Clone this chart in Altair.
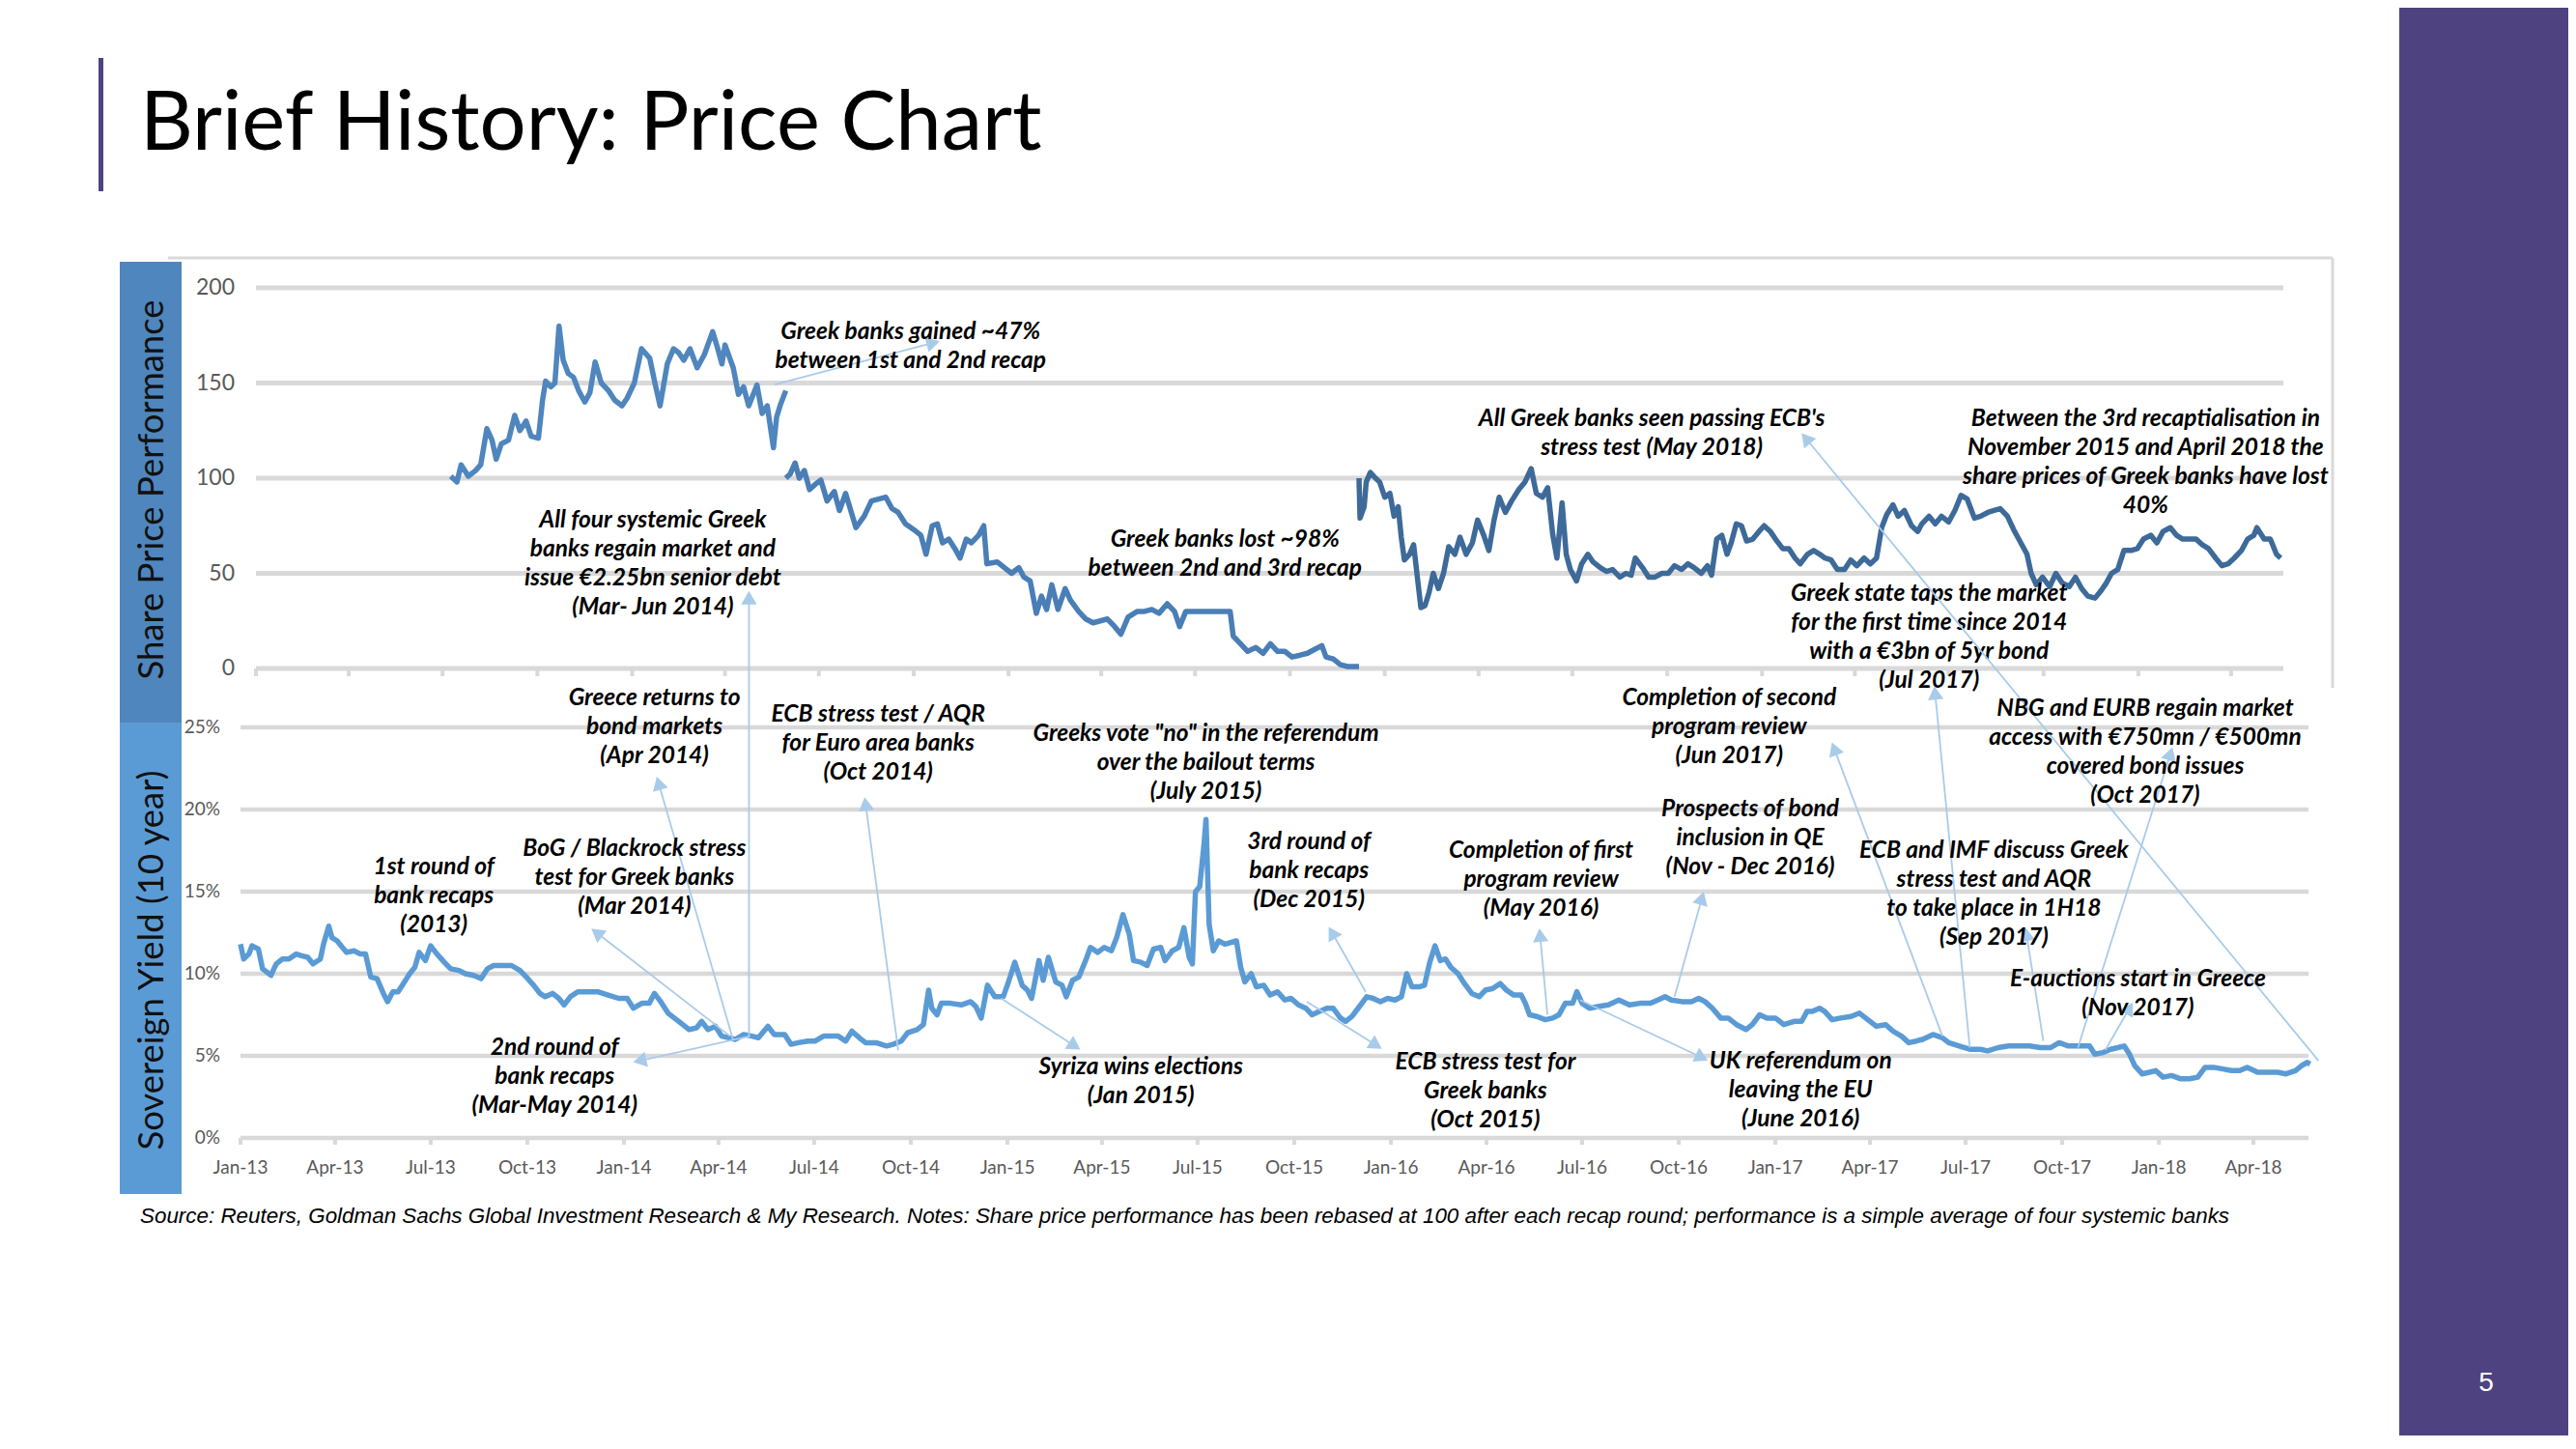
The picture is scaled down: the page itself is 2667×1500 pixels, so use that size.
import math
import altair as alt
import pandas as pd

# ---------------- data ----------------
# share price performance, rebased to 100 after each recap round
p1_dates = ["2013-07-09", "2013-07-15", "2013-07-19", "2013-07-26", "2013-08-02", "2013-08-07", "2013-08-13",
            "2013-08-18", "2013-08-22", "2013-08-27", "2013-09-03", "2013-09-09", "2013-09-14", "2013-09-20",
            "2013-09-25", "2013-10-02", "2013-10-06", "2013-10-09", "2013-10-14", "2013-10-18", "2013-10-22",
            "2013-10-26", "2013-10-31", "2013-11-05", "2013-11-10", "2013-11-16", "2013-11-21", "2013-11-26",
            "2013-12-02", "2013-12-09", "2013-12-15", "2013-12-22", "2013-12-27", "2014-01-03", "2014-01-10",
            "2014-01-18", "2014-01-23", "2014-01-28", "2014-02-04", "2014-02-10", "2014-02-15", "2014-02-20",
            "2014-02-26", "2014-03-05", "2014-03-12", "2014-03-20", "2014-03-25", "2014-03-29", "2014-04-01",
            "2014-04-09", "2014-04-14", "2014-04-19", "2014-04-24", "2014-05-02", "2014-05-07", "2014-05-12",
            "2014-05-18", "2014-05-21", "2014-05-25", "2014-05-30"]
p1_vals = [101, 98, 107, 101, 104, 107, 126, 120, 110, 118, 120, 133, 125, 130, 122, 121, 141, 151, 148, 150,
           180, 162, 155, 153, 146, 140, 145, 161, 150, 146, 141, 138, 142, 150, 168, 163, 150, 138, 160, 168,
           166, 162, 168, 158, 165, 177, 168, 160, 170, 158, 144, 148, 138, 149, 134, 138, 116, 132, 139, 146]

p2_dates = ["2014-05-30", "2014-06-03", "2014-06-08", "2014-06-12", "2014-06-17", "2014-06-22", "2014-06-28",
            "2014-07-03", "2014-07-09", "2014-07-16", "2014-07-21", "2014-07-27", "2014-08-01", "2014-08-06",
            "2014-08-14", "2014-08-21", "2014-08-28", "2014-09-04", "2014-09-10", "2014-09-16", "2014-09-23",
            "2014-10-01", "2014-10-08", "2014-10-13", "2014-10-19", "2014-10-24", "2014-10-29", "2014-11-04",
            "2014-11-10", "2014-11-15", "2014-11-21", "2014-11-26", "2014-12-03", "2014-12-08", "2014-12-11",
            "2014-12-21", "2014-12-28", "2015-01-04", "2015-01-11", "2015-01-16", "2015-01-22", "2015-01-28",
            "2015-02-02", "2015-02-07", "2015-02-12", "2015-02-18", "2015-02-25", "2015-03-02", "2015-03-10",
            "2015-03-17", "2015-03-24", "2015-03-31", "2015-04-07", "2015-04-14", "2015-04-20", "2015-04-27",
            "2015-05-06", "2015-05-13", "2015-05-20", "2015-05-27", "2015-06-04", "2015-06-11", "2015-06-16",
            "2015-06-22", "2015-08-04", "2015-08-07", "2015-08-14", "2015-08-21", "2015-08-29", "2015-09-05",
            "2015-09-12", "2015-09-19", "2015-09-26", "2015-10-03", "2015-10-11", "2015-10-18", "2015-10-25",
            "2015-11-01", "2015-11-05", "2015-11-12", "2015-11-19", "2015-11-26", "2015-12-07"]
p2_vals = [100, 102, 108, 100, 104, 94, 97, 99, 88, 93, 83, 92, 83, 74, 80, 88, 89, 90, 84, 82, 76, 73, 70, 60,
           75, 76, 66, 68, 63, 58, 68, 66, 70, 75, 55, 56, 53, 50, 53, 48, 46, 29, 38, 31, 44, 31, 42, 36, 30,
           26, 24, 25, 26, 22, 18, 27, 30, 30, 31, 29, 34, 30, 22, 30, 30, 17, 13, 9, 11, 8, 13, 9, 9, 6, 7, 8,
           10, 12, 6, 5, 2, 1, 1]

p3_dates = ["2015-12-07", "2015-12-08", "2015-12-12", "2015-12-14", "2015-12-18", "2015-12-23", "2015-12-27",
            "2016-01-01", "2016-01-06", "2016-01-10", "2016-01-14", "2016-01-17", "2016-01-20", "2016-01-25",
            "2016-01-29", "2016-02-05", "2016-02-09", "2016-02-13", "2016-02-17", "2016-02-22", "2016-02-27",
            "2016-03-03", "2016-03-09", "2016-03-14", "2016-03-20", "2016-03-26", "2016-03-31", "2016-04-06",
            "2016-04-11", "2016-04-16", "2016-04-21", "2016-04-27", "2016-05-03", "2016-05-10", "2016-05-16",
            "2016-05-22", "2016-05-27", "2016-06-02", "2016-06-07", "2016-06-12", "2016-06-16", "2016-06-21",
            "2016-06-25", "2016-06-29", "2016-07-05", "2016-07-10", "2016-07-16", "2016-07-21", "2016-07-28",
            "2016-08-03", "2016-08-09", "2016-08-16", "2016-08-22", "2016-08-27", "2016-08-31", "2016-09-07",
            "2016-09-13", "2016-09-19", "2016-09-26", "2016-10-02", "2016-10-08", "2016-10-15", "2016-10-21",
            "2016-10-27", "2016-11-03", "2016-11-09", "2016-11-13", "2016-11-18", "2016-11-23", "2016-11-28",
            "2016-12-02", "2016-12-07", "2016-12-12", "2016-12-17", "2016-12-23", "2016-12-29", "2017-01-03",
            "2017-01-09", "2017-01-14", "2017-01-21", "2017-01-27", "2017-02-02", "2017-02-07", "2017-02-14",
            "2017-02-20", "2017-02-26", "2017-03-03", "2017-03-09", "2017-03-15", "2017-03-22", "2017-03-28",
            "2017-04-03", "2017-04-10", "2017-04-16", "2017-04-22", "2017-04-27", "2017-05-02", "2017-05-08",
            "2017-05-13", "2017-05-19", "2017-05-26", "2017-06-01", "2017-06-05", "2017-06-12", "2017-06-18",
            "2017-06-24", "2017-07-01", "2017-07-07", "2017-07-13", "2017-07-19", "2017-07-26", "2017-08-01",
            "2017-08-08", "2017-08-14", "2017-08-20", "2017-08-27", "2017-09-02", "2017-09-08", "2017-09-15",
            "2017-09-19", "2017-09-24", "2017-09-30", "2017-10-07", "2017-10-13", "2017-10-19", "2017-10-26",
            "2017-11-01", "2017-11-07", "2017-11-13", "2017-11-20", "2017-11-26", "2017-12-01", "2017-12-06",
            "2017-12-12", "2017-12-18", "2017-12-25", "2017-12-31", "2018-01-06", "2018-01-13", "2018-01-19",
            "2018-01-25", "2018-02-01", "2018-02-07", "2018-02-13", "2018-02-20", "2018-02-26", "2018-03-04",
            "2018-03-10", "2018-03-17", "2018-03-23", "2018-03-29", "2018-04-04", "2018-04-11", "2018-04-17",
            "2018-04-23", "2018-04-26", "2018-05-03", "2018-05-09", "2018-05-15", "2018-05-19"]
p3_vals = [100, 79, 85, 98, 103, 100, 98, 90, 92, 80, 85, 69, 57, 60, 65, 32, 33, 40, 50, 42, 50, 64, 60, 69,
           60, 66, 78, 70, 62, 78, 90, 82, 88, 94, 98, 105, 92, 90, 95, 70, 58, 87, 60, 52, 46, 55, 60, 56, 53,
           51, 52, 48, 50, 49, 58, 53, 48, 48, 50, 50, 54, 52, 55, 53, 50, 54, 49, 68, 70, 60, 66, 76, 75, 67,
           68, 72, 75, 72, 68, 63, 63, 58, 55, 60, 62, 60, 58, 57, 52, 52, 57, 54, 58, 55, 58, 74, 81, 86, 80,
           83, 75, 72, 76, 80, 76, 80, 77, 83, 91, 89, 79, 80, 82, 83, 84, 80, 73, 67, 60, 50, 44, 48, 43, 50,
           45, 43, 48, 42, 38, 37, 41, 45, 50, 52, 62, 62, 63, 68, 70, 66, 72, 74, 70, 68, 68, 68, 65, 63, 58,
           54, 55, 58, 62, 68, 70, 74, 68, 68, 60, 58]

# Greek 10 year sovereign yield, %
yld_dates = ["2013-01-01", "2013-01-04", "2013-01-09", "2013-01-12", "2013-01-18", "2013-01-22", "2013-01-30",
             "2013-02-04", "2013-02-10", "2013-02-16", "2013-02-23", "2013-02-28", "2013-03-06", "2013-03-11",
             "2013-03-18", "2013-03-21", "2013-03-26", "2013-03-29", "2013-04-03", "2013-04-08", "2013-04-12",
             "2013-04-19", "2013-04-25", "2013-04-30", "2013-05-05", "2013-05-11", "2013-05-17", "2013-05-21",
             "2013-05-26", "2013-05-31", "2013-06-05", "2013-06-11", "2013-06-16", "2013-06-20", "2013-06-26",
             "2013-07-01", "2013-07-07", "2013-07-14", "2013-07-20", "2013-07-28", "2013-08-03", "2013-08-11",
             "2013-08-18", "2013-08-24", "2013-08-30", "2013-09-08", "2013-09-16", "2013-09-24", "2013-09-30",
             "2013-10-07", "2013-10-13", "2013-10-18", "2013-10-25", "2013-10-31", "2013-11-05", "2013-11-11",
             "2013-11-18", "2013-11-27", "2013-12-07", "2013-12-17", "2013-12-27", "2014-01-04", "2014-01-10",
             "2014-01-18", "2014-01-25", "2014-01-30", "2014-02-05", "2014-02-12", "2014-02-18", "2014-02-26",
             "2014-03-04", "2014-03-11", "2014-03-16", "2014-03-22", "2014-03-29", "2014-04-04", "2014-04-11",
             "2014-04-17", "2014-04-25", "2014-05-03", "2014-05-09", "2014-05-18", "2014-05-24", "2014-06-03",
             "2014-06-09", "2014-06-16", "2014-06-25", "2014-07-02", "2014-07-10", "2014-07-18", "2014-07-24",
             "2014-07-31", "2014-08-06", "2014-08-13", "2014-08-19", "2014-08-29", "2014-09-08", "2014-09-14",
             "2014-09-22", "2014-09-28", "2014-10-07", "2014-10-13", "2014-10-18", "2014-10-21", "2014-10-26",
             "2014-10-30", "2014-11-08", "2014-11-18", "2014-11-27", "2014-12-02", "2014-12-07", "2014-12-13",
             "2014-12-20", "2014-12-28", "2015-01-02", "2015-01-08", "2015-01-15", "2015-01-20", "2015-01-24",
             "2015-01-31", "2015-02-04", "2015-02-09", "2015-02-16", "2015-02-22", "2015-02-26", "2015-03-04",
             "2015-03-10", "2015-03-17", "2015-03-21", "2015-03-28", "2015-04-03", "2015-04-10", "2015-04-15",
             "2015-04-21", "2015-04-27", "2015-05-01", "2015-05-08", "2015-05-14", "2015-05-20", "2015-05-27",
             "2015-05-31", "2015-06-07", "2015-06-13", "2015-06-18", "2015-06-23", "2015-06-26", "2015-06-29",
             "2015-07-03", "2015-07-07", "2015-07-09", "2015-07-12", "2015-07-16", "2015-07-21", "2015-07-27",
             "2015-08-07", "2015-08-11", "2015-08-15", "2015-08-21", "2015-08-26", "2015-09-02", "2015-09-08",
             "2015-09-15", "2015-09-22", "2015-09-28", "2015-10-05", "2015-10-12", "2015-10-18", "2015-10-25",
             "2015-11-01", "2015-11-07", "2015-11-14", "2015-11-19", "2015-11-25", "2015-12-02", "2015-12-09",
             "2015-12-15", "2015-12-22", "2015-12-29", "2016-01-05", "2016-01-11", "2016-01-16", "2016-01-21",
             "2016-01-28", "2016-02-02", "2016-02-07", "2016-02-12", "2016-02-17", "2016-02-22", "2016-02-27",
             "2016-03-05", "2016-03-11", "2016-03-18", "2016-03-25", "2016-03-31", "2016-04-07", "2016-04-14",
             "2016-04-20", "2016-04-27", "2016-05-04", "2016-05-08", "2016-05-12", "2016-05-19", "2016-05-27",
             "2016-06-03", "2016-06-09", "2016-06-15", "2016-06-22", "2016-06-26", "2016-07-01", "2016-07-08",
             "2016-07-16", "2016-07-26", "2016-08-05", "2016-08-15", "2016-08-25", "2016-09-04", "2016-09-11",
             "2016-09-18", "2016-09-24", "2016-10-04", "2016-10-13", "2016-10-20", "2016-10-26", "2016-11-02",
             "2016-11-10", "2016-11-17", "2016-11-25", "2016-12-04", "2016-12-10", "2016-12-17", "2016-12-24",
             "2017-01-01", "2017-01-09", "2017-01-19", "2017-01-26", "2017-01-31", "2017-02-05", "2017-02-12",
             "2017-02-17", "2017-02-24", "2017-03-04", "2017-03-14", "2017-03-22", "2017-03-30", "2017-04-07",
             "2017-04-16", "2017-04-23", "2017-05-01", "2017-05-08", "2017-05-15", "2017-05-21", "2017-05-31",
             "2017-06-09", "2017-06-15", "2017-06-25", "2017-07-05", "2017-07-15", "2017-07-22", "2017-08-01",
             "2017-08-11", "2017-08-21", "2017-08-31", "2017-09-10", "2017-09-20", "2017-09-28", "2017-10-07",
             "2017-10-17", "2017-10-27", "2017-11-01", "2017-11-09", "2017-11-16", "2017-11-23", "2017-11-29",
             "2017-12-04", "2017-12-09", "2017-12-16", "2017-12-23", "2017-12-29", "2018-01-05", "2018-01-13",
             "2018-01-22", "2018-01-30", "2018-02-07", "2018-02-14", "2018-02-22", "2018-03-03", "2018-03-11",
             "2018-03-19", "2018-03-26", "2018-04-05", "2018-04-14", "2018-04-24", "2018-05-02", "2018-05-11",
             "2018-05-17", "2018-05-22", "2018-05-25"]
yld_vals = [11.8, 10.9, 11.2, 11.7, 11.5, 10.3, 9.9, 10.6, 10.9, 10.9, 11.2, 11.1, 11.0, 10.6, 10.9, 11.8, 12.9,
            12.2, 12.0, 11.6, 11.3, 11.4, 11.2, 11.2, 9.8, 9.7, 8.8, 8.3, 8.9, 8.9, 9.4, 10.0, 10.4, 11.3, 10.8,
            11.7, 11.2, 10.7, 10.3, 10.2, 10.0, 9.9, 9.7, 10.3, 10.5, 10.5, 10.5, 10.2, 9.8, 9.3, 8.8, 8.6, 8.8,
            8.5, 8.1, 8.6, 8.9, 8.9, 8.9, 8.7, 8.5, 8.5, 7.9, 8.2, 8.2, 8.8, 8.3, 7.6, 7.3, 6.9, 6.6, 6.7, 7.1,
            6.6, 6.8, 6.2, 6.1, 6.0, 6.3, 6.2, 6.1, 6.8, 6.3, 6.3, 5.7, 5.8, 5.9, 5.9, 6.2, 6.2, 6.2, 5.9, 6.5,
            6.1, 5.8, 5.8, 5.6, 5.7, 5.9, 6.4, 6.6, 6.9, 9.0, 7.9, 7.5, 8.2, 8.2, 8.1, 8.3, 8.0, 7.3, 9.3, 8.6,
            8.6, 9.5, 10.7, 9.3, 9.0, 8.5, 10.8, 9.6, 11.0, 9.5, 9.3, 8.6, 9.6, 9.8, 10.9, 11.6, 11.3, 11.6,
            11.4, 12.2, 13.6, 12.4, 10.8, 10.7, 10.5, 11.5, 11.6, 10.8, 11.4, 11.6, 12.8, 11.0, 10.6, 15.0, 15.3,
            17.8, 19.4, 13.0, 11.4, 12.0, 11.8, 12.0, 10.4, 9.5, 10.0, 9.2, 9.3, 8.7, 8.9, 8.4, 8.5, 8.1, 7.9,
            7.5, 7.7, 7.9, 7.9, 7.3, 7.1, 7.4, 8.0, 8.6, 8.5, 8.3, 8.5, 8.4, 8.6, 10.0, 9.2, 9.2, 9.3, 10.7,
            11.7, 10.8, 10.9, 10.4, 10.0, 9.4, 8.8, 8.6, 9.0, 9.1, 9.4, 9.0, 8.7, 8.7, 8.2, 7.5, 7.4, 7.2, 7.3,
            7.5, 8.2, 8.2, 8.9, 8.2, 7.9, 8.0, 8.1, 8.4, 8.1, 8.2, 8.2, 8.4, 8.6, 8.4, 8.3, 8.3, 8.5, 8.3, 7.9,
            7.3, 7.3, 6.9, 6.6, 6.9, 7.5, 7.3, 7.3, 6.9, 7.1, 7.1, 7.7, 7.7, 7.9, 7.7, 7.2, 7.3, 7.4, 7.6, 7.2,
            6.8, 6.9, 6.5, 6.2, 5.8, 5.9, 6.0, 6.3, 6.1, 5.8, 5.6, 5.4, 5.4, 5.3, 5.5, 5.6, 5.6, 5.6, 5.5, 5.5,
            5.8, 5.6, 5.6, 5.6, 5.1, 5.2, 5.4, 5.5, 5.6, 5.1, 4.4, 3.9, 4.0, 4.1, 3.7, 3.8, 3.6, 3.6, 3.7, 4.3,
            4.3, 4.2, 4.1, 4.1, 4.3, 4.0, 4.0, 4.0, 3.9, 4.1, 4.4, 4.6, 4.5]

# axes
price_ticks = [0, 50, 100, 150, 200]
price_tick_labels = ["0", "50", "100", "150", "200"]
yld_ticks = [0, 5, 10, 15, 20, 25]
yld_tick_labels = ["0%", "5%", "10%", "15%", "20%", "25%"]
quarter_dates = ["2013-01-01", "2013-04-01", "2013-07-01", "2013-10-01", "2014-01-01", "2014-04-01",
                 "2014-07-01", "2014-10-01", "2015-01-01", "2015-04-01", "2015-07-01", "2015-10-01",
                 "2016-01-01", "2016-04-01", "2016-07-01", "2016-10-01", "2017-01-01", "2017-04-01",
                 "2017-07-01", "2017-10-01", "2018-01-01", "2018-04-01"]
quarter_labels = ["Jan-13", "Apr-13", "Jul-13", "Oct-13", "Jan-14", "Apr-14", "Jul-14", "Oct-14", "Jan-15",
                  "Apr-15", "Jul-15", "Oct-15", "Jan-16", "Apr-16", "Jul-16", "Oct-16", "Jan-17", "Apr-17",
                  "Jul-17", "Oct-17", "Jan-18", "Apr-18"]

# annotations on the share price panel (date, level, text)
top_note_dates = ["2014-09-28", "2014-01-21", "2015-07-30", "2016-09-16", "2018-01-08", "2017-06-12"]
top_note_vals = [182.7, 83.8, 73.6, 137.1, 137.1, 45.2]
top_note_texts = [
    "Greek banks gained ~47%\nbetween 1st and 2nd recap",
    "All four systemic Greek\nbanks regain market and\nissue €2.25bn senior debt\n(Mar- Jun 2014)",
    "Greek banks lost ~98%\nbetween 2nd and 3rd recap",
    "All Greek banks seen passing ECB's\nstress test (May 2018)",
    "Between the 3rd recaptialisation in\nNovember 2015 and April 2018 the\nshare prices of Greek banks have lost\n40%",
    "Greek state taps the market\nfor the first time since 2014\nwith a €3bn of 5yr bond\n(Jul 2017)",
]
top_arrow_from = [("2014-05-19", 149.2)]
top_arrow_to = [("2014-10-20", 171.1)]

# annotations on the yield panel
bot_note_dates = ["2014-01-30", "2014-08-31", "2015-07-09", "2014-01-11", "2013-07-04", "2013-10-27",
                  "2015-05-08", "2015-10-15", "2016-03-31", "2016-05-23", "2017-01-25", "2016-12-08",
                  "2016-11-18", "2017-07-28", "2017-12-19", "2017-12-12"]
bot_note_vals = [27.5, 26.5, 25.3, 18.3, 17.2, 6.2, 5.0, 18.7, 5.3, 18.2, 5.35, 20.7, 27.5, 18.2, 26.8, 10.35]
bot_note_texts = [
    "Greece returns to\nbond markets\n(Apr 2014)",
    "ECB stress test / AQR\nfor Euro area banks\n(Oct 2014)",
    "Greeks vote \"no\" in the referendum\nover the bailout terms\n(July 2015)",
    "BoG / Blackrock stress\ntest for Greek banks\n(Mar 2014)",
    "1st round of\nbank recaps\n(2013)",
    "2nd round of\nbank recaps\n(Mar-May 2014)",
    "Syriza wins elections\n(Jan 2015)",
    "3rd round of\nbank recaps\n(Dec 2015)",
    "ECB stress test for\nGreek banks\n(Oct 2015)",
    "Completion of first\nprogram review\n(May 2016)",
    "UK referendum on\nleaving the EU\n(June 2016)",
    "Prospects of bond\ninclusion in QE\n(Nov - Dec 2016)",
    "Completion of second\nprogram review\n(Jun 2017)",
    "ECB and IMF discuss Greek\nstress test and AQR\nto take place in 1H18\n(Sep 2017)",
    "NBG and EURB regain market\naccess with €750mn / €500mn\ncovered bond issues\n(Oct 2017)",
    "E-auctions start in Greece\n(Nov 2017)",
]
bot_arrow_from = [("2014-04-30", 6.2), ("2018-06-02", 4.7), ("2017-07-05", 5.5), ("2014-04-15", 5.94),
                  ("2014-09-19", 5.35), ("2014-04-12", 6.2), ("2014-05-01", 6.2), ("2014-12-26", 8.5),
                  ("2015-12-08", 8.9), ("2015-10-13", 8.3), ("2016-05-29", 7.5), ("2016-06-29", 8.4),
                  ("2016-09-27", 8.6), ("2017-06-09", 6.2), ("2017-09-13", 5.9), ("2017-10-16", 5.5),
                  ("2017-11-11", 5.35)]
bot_arrow_to = [("2014-04-30", 32.9), ("2017-01-30", 42.6), ("2017-06-02", 27.1), ("2014-02-03", 21.6),
                ("2014-08-19", 20.35), ("2013-12-06", 12.5), ("2014-01-16", 4.7), ("2015-03-06", 5.6),
                ("2015-11-06", 12.5), ("2015-12-18", 5.65), ("2016-05-22", 12.35), ("2016-10-23", 4.9),
                ("2016-10-23", 14.6), ("2017-02-26", 23.7), ("2017-08-28", 12.4), ("2018-01-12", 23.4),
                ("2017-12-04", 7.9)]

# ---------------- layout ----------------
W, H = 2651, 1478
LABEL_FONT = "Lato"
NOTE = dict(font="Lato", fontStyle="italic", fontWeight="bold", fontSize=24.5, lineHeight=30,
            lineBreak="\n", align="center", baseline="top", color="#000000")
ARROW = "#A9CBEA"
GRID = "#D9D9D9"


def dt(y, m, d):
    return alt.DateTime(year=y, month=m, date=d, utc=True)


x_dom = [dt(2013, 1, 1), dt(2018, 5, 25)]
TOP_X0, TOP_PXDAY = 257, 1.0673
BOT_X0, BOT_PXDAY = 241, 1.0877
n_days = 1970
top_x = alt.Scale(type="utc", domain=x_dom, range=[TOP_X0, TOP_X0 + n_days * TOP_PXDAY], nice=False)
bot_x = alt.Scale(type="utc", domain=x_dom, range=[BOT_X0, BOT_X0 + n_days * BOT_PXDAY], nice=False)
top_y = alt.Scale(domain=[0, 200], range=[684, 290], nice=False, zero=False)
bot_y = alt.Scale(domain=[0, 25], range=[1170, 745], nice=False, zero=False)
TOP_PXUNIT = (684 - 290) / 200
BOT_PXUNIT = (1170 - 745) / 25


def arrows(starts, ends, xs, ys, px_day, px_unit):
    rows = []
    for (d1, v1), (d2, v2) in zip(starts, ends):
        days = (pd.Timestamp(d2) - pd.Timestamp(d1)).days
        dx = days * px_day
        dy = -(v2 - v1) * px_unit
        ang = math.degrees(math.atan2(dx, -dy)) % 360
        rows.append({"d1": d1, "v1": v1, "d2": d2, "v2": v2, "ang": ang})
    df = pd.DataFrame(rows)
    line = alt.Chart(df).mark_rule(color=ARROW, strokeWidth=1.8).encode(
        x=alt.X("d1:T", scale=xs, axis=None), y=alt.Y("v1:Q", scale=ys, axis=None),
        x2="d2:T", y2="v2:Q")
    head = alt.Chart(df).mark_point(shape="triangle-up", filled=True, color=ARROW, opacity=1, size=260).encode(
        x=alt.X("d2:T", scale=xs, axis=None), y=alt.Y("v2:Q", scale=ys, axis=None),
        angle=alt.Angle("ang:Q", scale=None))
    return [line, head]


# ---- share price panel ----
price_df = pd.concat([
    pd.DataFrame({"date": p1_dates, "v": p1_vals, "seg": "1st"}),
    pd.DataFrame({"date": p2_dates, "v": p2_vals, "seg": "2nd"}),
    pd.DataFrame({"date": p3_dates, "v": p3_vals, "seg": "3rd"}),
])
q_df = pd.DataFrame({"date": quarter_dates, "t": quarter_labels})

top_grid = alt.Chart(pd.DataFrame({"v": price_ticks})).mark_rule(color=GRID, strokeWidth=5).encode(
    y=alt.Y("v:Q", scale=top_y, axis=None), x=alt.value(TOP_X0), x2=alt.value(2356))
top_tick = alt.Chart(q_df).mark_rule(color=GRID, strokeWidth=4).encode(
    x=alt.X("date:T", scale=top_x, axis=None), y=alt.value(684), y2=alt.value(692))
top_lab = alt.Chart(pd.DataFrame({"v": price_ticks, "t": price_tick_labels})).mark_text(
    align="right", baseline="middle", font=LABEL_FONT, fontSize=23, color="#595959").encode(
    y=alt.Y("v:Q", scale=top_y, axis=None), x=alt.value(235), text="t:N")
price_line = alt.Chart(price_df).mark_line(strokeWidth=5.5, strokeJoin="round").encode(
    x=alt.X("date:T", scale=top_x, axis=None),
    y=alt.Y("v:Q", scale=top_y, axis=None),
    detail="seg:N",
    color=alt.Color("seg:N", scale=alt.Scale(domain=["1st", "2nd", "3rd"],
                                             range=["#4F86BD", "#4A7EB6", "#3E6A99"]), legend=None))
top_notes = alt.Chart(pd.DataFrame({"date": top_note_dates, "v": top_note_vals, "t": top_note_texts})).mark_text(
    **NOTE).encode(x=alt.X("date:T", scale=top_x, axis=None), y=alt.Y("v:Q", scale=top_y, axis=None), text="t:N")

top_panel = alt.layer(top_grid, top_tick, top_lab, price_line,
                      *arrows(top_arrow_from, top_arrow_to, top_x, top_y, TOP_PXDAY, TOP_PXUNIT),
                      top_notes)

# ---- yield panel ----
yld_df = pd.DataFrame({"date": yld_dates, "v": yld_vals})
bot_grid = alt.Chart(pd.DataFrame({"v": yld_ticks})).mark_rule(color=GRID, strokeWidth=4.5).encode(
    y=alt.Y("v:Q", scale=bot_y, axis=None), x=alt.value(BOT_X0), x2=alt.value(2382))
bot_tick = alt.Chart(q_df).mark_rule(color=GRID, strokeWidth=4).encode(
    x=alt.X("date:T", scale=bot_x, axis=None), y=alt.value(1170), y2=alt.value(1177))
bot_xlab = alt.Chart(q_df).mark_text(baseline="middle", font=LABEL_FONT, fontSize=19, color="#595959").encode(
    x=alt.X("date:T", scale=bot_x, axis=None), y=alt.value(1201), text="t:N")
bot_ylab = alt.Chart(pd.DataFrame({"v": yld_ticks, "t": yld_tick_labels})).mark_text(
    align="right", baseline="middle", font=LABEL_FONT, fontSize=19, color="#595959").encode(
    y=alt.Y("v:Q", scale=bot_y, axis=None), x=alt.value(220), text="t:N")
yld_line = alt.Chart(yld_df).mark_line(strokeWidth=5.5, strokeJoin="round", color="#5B9BD5").encode(
    x=alt.X("date:T", scale=bot_x, axis=None), y=alt.Y("v:Q", scale=bot_y, axis=None))
bot_notes = alt.Chart(pd.DataFrame({"date": bot_note_dates, "v": bot_note_vals, "t": bot_note_texts})).mark_text(
    **NOTE).encode(x=alt.X("date:T", scale=bot_x, axis=None), y=alt.Y("v:Q", scale=bot_y, axis=None), text="t:N")

bot_panel = alt.layer(bot_grid, bot_tick, bot_xlab, bot_ylab, yld_line,
                      *arrows(bot_arrow_from, bot_arrow_to, bot_x, bot_y, BOT_PXDAY, BOT_PXUNIT),
                      bot_notes)

# ---- slide furniture ----
one = pd.DataFrame({"k": [0]})


def box(x, x2, y, y2, color):
    return alt.Chart(one).mark_rect(color=color).encode(
        x=alt.value(x), x2=alt.value(x2), y=alt.value(y), y2=alt.value(y2))


def label(text, x, y, **kw):
    return alt.Chart(one).mark_text(text=text, **kw).encode(x=alt.value(x), y=alt.value(y))


frame_top = alt.Chart(one).mark_rule(color=GRID, strokeWidth=3).encode(
    x=alt.value(166), x2=alt.value(2407), y=alt.value(259))
frame_right = alt.Chart(one).mark_rule(color=GRID, strokeWidth=3).encode(
    x=alt.value(2407), y=alt.value(259), y2=alt.value(704))

furniture = [
    box(2476, W, 0, H, "#4F4281"),
    box(94, 99, 52, 190, "#4F4281"),
    box(116, 180, 263, 740, "#4F86BD"),
    box(116, 180, 740, 1228, "#5B9BD5"),
    frame_top, frame_right,
]
texts = [
    label("Brief History: Price Chart", 137, 147, align="left", baseline="alphabetic",
          font="Lato", fontSize=85, color="#000000"),
    label("Share Price Performance", 150, 499, angle=270, align="center", baseline="middle",
          font="Lato", fontSize=36.5, color="#111111"),
    label("Sovereign Yield (10 year)", 150, 986, angle=270, align="center", baseline="middle",
          font="Lato", fontSize=36.5, color="#111111"),
    label("Source: Reuters, Goldman Sachs Global Investment Research & My Research. Notes: Share price "
          "performance has been rebased at 100 after each recap round; performance is a simple average "
          "of four systemic banks", 137, 1251, align="left", baseline="middle",
          font="Liberation Sans", fontStyle="italic", fontSize=22.4, color="#000000"),
    label("5", 2566, 1424, align="center", baseline="middle", font="Liberation Sans",
          fontSize=28, color="#FFFFFF"),
]

chart = alt.layer(*furniture, top_panel, bot_panel, *texts).resolve_scale(
    x="independent", y="independent"
).properties(
    width=W, height=H, padding=0, autosize=alt.AutoSizeParams(type="none"), background="#FFFFFF"
).configure_view(stroke=None)

chart.save("out.html", embed_options={"renderer": "svg", "actions": False})
